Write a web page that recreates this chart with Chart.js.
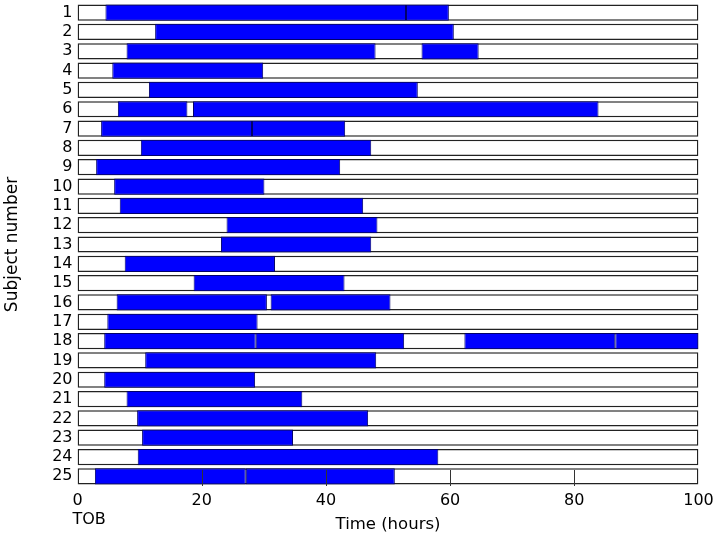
<!DOCTYPE html>
<html>
<head>
<meta charset="utf-8">
<script src="https://cdn.jsdelivr.net/npm/chart.js@4.4.1/dist/chart.umd.min.js"></script>
<style>
  html, body { margin: 0; padding: 0; background: #fff; }
  #wrap { width: 714px; height: 535px; }
</style>
</head>
<body>
<div id="wrap"><canvas id="subjChart" width="714" height="535"></canvas></div>
<script>
// subjects, one row each
const subjects = ['1','2','3','4','5','6','7','8','9','10','11','12','13','14','15','16','17','18','19','20','21','22','23','24','25'];

// blue periods per subject, [start, end] in hours (null = none)
const period1 = [[4.5,52.9],[12.5,60.6],[7.9,48.0],[5.6,29.9],[11.5,54.8],[6.5,17.7],[3.8,28.1],[10.2,47.3],[3.0,42.3],[5.9,30.1],
                 [6.8,46.0],[24.0,48.3],[23.1,47.3],[7.6,31.8],[18.7,43.0],[6.3,30.5],[4.8,29.0],[4.3,28.7],[10.9,48.1],[4.3,28.6],
                 [7.9,36.2],[9.6,46.8],[10.4,34.7],[9.7,58.1],[2.8,27.1]];
const period2 = [[52.9,59.8],null,[55.4,64.6],null,null,[18.6,83.9],[28.1,43.1],null,null,null,
                 null,null,null,null,null,[31.1,50.4],null,[28.7,52.6],null,null,
                 null,null,null,null,[27.1,51.1]];
const period3 = [null,null,null,null,null,null,null,null,null,null,
                 null,null,null,null,null,null,null,[62.3,86.6],null,null,
                 null,null,null,null,null];
const period4 = [null,null,null,null,null,null,null,null,null,null,
                 null,null,null,null,null,null,null,[86.6,100],null,null,
                 null,null,null,null,null];

const xMin = 0, xMax = 100;
const xTicks = [0, 20, 40, 60, 80, 100];

const fullRange = subjects.map(() => [xMin, xMax]);
const FONT = 'DejaVu Sans';

function blueSet(data) {
    return {
        data: data,
        backgroundColor: '#0000ff',
        borderColor: '#00006a',
        borderWidth: 1,
        borderSkipped: false,
        grouped: false,
        barPercentage: 0.84,
        categoryPercentage: 1.0
    };
}

// inward bottom ticks + TOB text
const extras = {
    id: 'extras',
    afterDatasetsDraw(chart) {
        const ctx = chart.ctx;
        const xs = chart.scales.x;
        const area = chart.chartArea;
        ctx.save();
        ctx.strokeStyle = '#333';
        ctx.lineWidth = 1;
        xTicks.forEach(v => {
            if (v === xMin || v === xMax) return;
            const px = Math.round(xs.getPixelForValue(v)) + 0.5;
            ctx.beginPath();
            ctx.moveTo(px, area.bottom);
            ctx.lineTo(px, area.bottom - 16);
            ctx.stroke();
        });
        ctx.fillStyle = '#000';
        ctx.font = '16px "' + FONT + '"';
        ctx.textAlign = 'left';
        ctx.textBaseline = 'middle';
        ctx.fillText('TOB', xs.getPixelForValue(xMin) - 5, 520);
        ctx.restore();
    }
};

new Chart(document.getElementById('subjChart').getContext('2d'), {
    type: 'bar',
    data: {
        labels: subjects,
        datasets: [
            blueSet(period1),
            blueSet(period2),
            blueSet(period3),
            blueSet(period4),
            {
                data: fullRange,
                backgroundColor: '#ffffff',
                borderColor: '#222',
                borderWidth: 1.5,
                borderSkipped: false,
                grouped: false,
                barPercentage: 0.84,
                categoryPercentage: 1.0
            }
        ]
    },
    plugins: [extras],
    options: {
        indexAxis: 'y',
        responsive: false,
        animation: false,
        layout: { padding: { top: 3, right: 15.5, left: 0, bottom: 0 } },
        plugins: {
            legend: { display: false },
            tooltip: { enabled: false }
        },
        scales: {
            x: {
                type: 'linear',
                min: xMin,
                max: xMax,
                afterBuildTicks(scale) { scale.ticks = xTicks.map(v => ({ value: v })); },
                afterFit(scale) {
                    scale.height = 49;
                    scale.paddingRight = 0;
                },
                grid: { display: false, drawTicks: false },
                border: { display: false },
                ticks: { color: '#000', font: { family: FONT, size: 16 }, padding: 5, maxRotation: 0 },
                title: { display: true, text: 'Time (hours)', color: '#000', font: { family: FONT, size: 16.5 }, padding: { top: 2, bottom: 0 } }
            },
            y: {
                type: 'category',
                afterFit(scale) {
                    scale.width = 77.5;
                    scale.paddingTop = 0;
                    scale.paddingBottom = 0;
                },
                grid: { display: false, drawTicks: false },
                border: { display: false },
                ticks: { color: '#000', font: { family: FONT, size: 16 }, padding: 5, autoSkip: false },
                title: { display: true, text: 'Subject number', color: '#000', font: { family: FONT, size: 17 }, padding: { top: 2, bottom: 0 } }
            }
        }
    }
});
</script>
</body>
</html>
